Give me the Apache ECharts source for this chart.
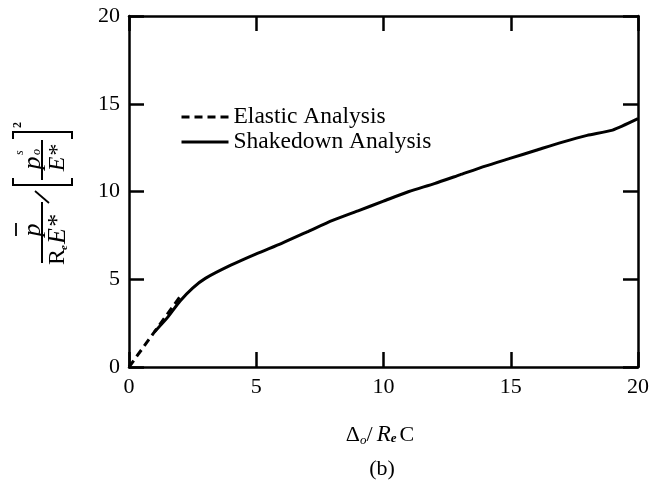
<!DOCTYPE html>
<html>
<head>
<meta charset="utf-8">
<script src="https://cdn.jsdelivr.net/npm/echarts@6/dist/echarts.min.js"></script>
<style>
html,body{margin:0;padding:0;background:#fff}
#main{width:652px;height:485px}
</style>
</head>
<body>
<div id="main"></div>
<script>
let tick_values=[0,5,10,15,20]
// Shakedown Analysis (solid)
let shakedown_x=[1,1.5,2,2.5,3,4,5,6,7,8,9,10,11,12,13,14,15,16,17,18,19,20]
let shakedown_y=[2.0,2.8,3.75,4.5,5.05,5.8,6.45,7.05,7.7,8.35,8.9,9.45,10.0,10.45,10.95,11.45,11.9,12.35,12.8,13.2,13.5,14.15]
// Elastic Analysis (dashed)
let elastic_x=[0,1,2]
let elastic_y=[0,2,4]

let serif='"Liberation Serif","DejaVu Serif",serif'
let chart=echarts.init(document.getElementById('main'))

function axisBase(pos,showLabel){
    return {
        type:'value',position:pos,min:tick_values[0],max:tick_values[tick_values.length-1],interval:5,
        axisLine:{show:true,onZero:false,lineStyle:{color:'#000',width:2.5}},
        axisTick:{show:true,inside:true,length:15,lineStyle:{color:'#000',width:2.5}},
        axisLabel:{show:showLabel,color:'#000',fontFamily:serif,fontSize:22,margin:9},
        splitLine:{show:false}
    }
}

function txt(x,y,s,font,align){
    return {type:'text',x:x,y:y,style:{text:s,font:font,fill:'#000',align:align||'center',verticalAlign:'middle'}}
}

// y axis name drawn in a rotated group: local x goes up the page, local y goes right
let yName={
    type:'group',x:42,y:305,rotation:Math.PI/2,
    children:[
        txt(75,-9,'p','italic 26px '+serif),
        {type:'line',shape:{x1:69,y1:-26,x2:82,y2:-26},style:{stroke:'#000',lineWidth:1.8}},
        {type:'line',shape:{x1:42,y1:0,x2:103,y2:0},style:{stroke:'#000',lineWidth:2}},
        txt(40,16,'R','24px '+serif,'left'),
        txt(55,22,'e','italic bold 11px '+serif,'left'),
        txt(61,16,'E*','italic 26px '+serif,'left'),
        {type:'line',shape:{x1:102,y1:7,x2:114,y2:-7},style:{stroke:'#000',lineWidth:1.8}},
        // bracket
        {type:'polyline',shape:{points:[[127,-29],[120,-29],[120,30],[127,30]]},style:{stroke:'#000',lineWidth:2,fill:null}},
        {type:'polyline',shape:{points:[[166,-29],[173,-29],[173,30],[166,30]]},style:{stroke:'#000',lineWidth:2,fill:null}},
        txt(142,-9,'p','italic 26px '+serif),
        txt(150,-22,'s','italic 12px '+serif,'left'),
        txt(150,-5,'o','italic 12px '+serif,'left'),
        {type:'line',shape:{x1:125,y1:0,x2:165,y2:0},style:{stroke:'#000',lineWidth:2}},
        txt(147,16,'E*','italic 24px '+serif),
        txt(180,-24,'2','bold 12px '+serif)
    ]
}

chart.setOption({
    backgroundColor:'#fff',
    animation:false,
    grid:{left:129,right:12,top:16,bottom:118},
    legend:{
        orient:'vertical',left:180,top:105,padding:0,itemWidth:47,itemHeight:14,itemGap:1,
        itemStyle:{color:'rgba(0,0,0,0)',borderColor:'rgba(0,0,0,0)',borderWidth:0},
        lineStyle:{width:3},
        textStyle:{fontFamily:serif,fontSize:23.5,color:'#000',padding:[0,0,0,0]},
        data:['Elastic Analysis','Shakedown Analysis']
    },
    xAxis:[axisBase('bottom',true),axisBase('top',false)],
    yAxis:[axisBase('left',true),axisBase('right',false)],
    series:[
        {
            name:'Elastic Analysis',type:'line',
            data:elastic_x.map((x,i)=>[x,elastic_y[i]]),
            symbol:'none',
            lineStyle:{color:'#000',width:3,type:[8,5]},
            itemStyle:{color:'#000'}
        },
        {
            name:'Shakedown Analysis',type:'line',
            data:shakedown_x.map((x,i)=>[x,shakedown_y[i]]),
            symbol:'none',smooth:0.2,
            lineStyle:{color:'#000',width:3},
            itemStyle:{color:'#000'}
        }
    ],
    graphic:[
        yName,
        {
            type:'text',x:380,y:435,
            style:{
                text:'{a|Δ}{s|o}{a|/}{r|R}{e|e}{a|C}',
                align:'center',verticalAlign:'middle',
                rich:{
                    a:{font:'22px '+serif,fill:'#000'},
                    s:{font:'italic 13px '+serif,padding:[12,0,0,0],fill:'#000'},
                    r:{font:'italic 23px '+serif,fill:'#000',padding:[0,0,0,4]},
                    e:{font:'italic bold 13px '+serif,padding:[8,3,0,0],fill:'#000'}
                }
            }
        },
        txt(382,469,'(b)','22px '+serif)
    ]
})
</script>
</body>
</html>
